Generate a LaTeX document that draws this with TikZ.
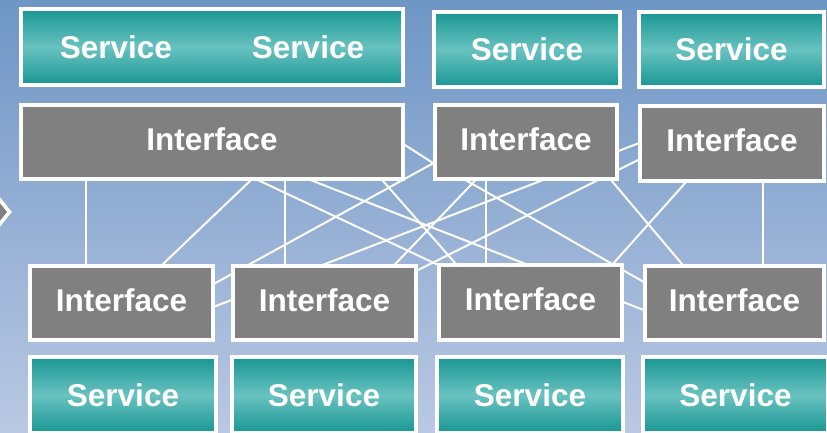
\documentclass[tikz,border=0pt]{standalone}
\usepackage{fontspec}
\setmainfont{Liberation Sans}
\pgfdeclarelayer{bg}
\pgfdeclarelayer{wires}
\pgfsetlayers{bg,wires,main}
\definecolor{skytop}{RGB}{110,150,197}
\definecolor{skybot}{RGB}{186,200,227}
\definecolor{tealdark}{RGB}{24,150,146}
\definecolor{teallight}{RGB}{104,194,192}
\definecolor{ifcgray}{RGB}{128,128,128}
\tikzset{
    box/.style={draw=white, line width=3.6pt, text=white, inner sep=0pt,
        font=\bfseries\fontsize{31.5}{36}\selectfont},
    svc/.style={box, top color=tealdark, bottom color=tealdark, middle color=teallight},
    ifc/.style={box, fill=ifcgray, text depth=6pt},
    wire/.style={white, line width=2pt},
}
\newcommand\Wire[4]{%
    \draw[wire] ([shift={#2}]#1.center) -- ([shift={#4}]#3.center);
}

\begin{document}
\begin{tikzpicture}[x=1pt,y=-1pt]
    \useasboundingbox (0,0) rectangle (827,432);
    \clip (0,0) rectangle (827,432);
    \begin{pgfonlayer}{bg}
        \shade[top color=skytop, bottom color=skybot] (0,0) rectangle (827,432);
    \end{pgfonlayer}
    % top row
    \node[svc, minimum width=382.4pt, minimum height=76.4pt] (S1) at (212,47) {Service\hspace{80pt}Service};
    \node[svc, minimum width=186.4pt, minimum height=75.4pt] (S2) at (527,49.5) {Service};
    \node[svc, minimum width=185.4pt, minimum height=75.4pt] (S3) at (731.5,49.5) {Service};
    \node[ifc, minimum width=382.4pt, minimum height=74.4pt] (I1) at (212,142) {Interface};
    \node[ifc, minimum width=182.4pt, minimum height=74.4pt] (I2) at (526,142) {Interface};
    \node[ifc, minimum width=184.4pt, minimum height=75.4pt] (I3) at (732,143.5) {Interface};
    % bottom row
    \node[ifc, minimum width=183.4pt, minimum height=74.4pt] (B1) at (121.5,303) {Interface};
    \node[ifc, minimum width=183.4pt, minimum height=74.4pt] (B2) at (324.5,303) {Interface};
    \node[ifc, minimum width=183.4pt, minimum height=75.4pt] (B3) at (530.5,302.5) {Interface};
    \node[ifc, minimum width=179.4pt, minimum height=74.4pt] (B4) at (734.5,303) {Interface};
    \node[svc, minimum width=186.4pt, minimum height=76.4pt] (V1) at (123,395) {Service};
    \node[svc, minimum width=184.4pt, minimum height=76.4pt] (V2) at (324,395) {Service};
    \node[svc, minimum width=186.4pt, minimum height=76.4pt] (V3) at (530,395) {Service};
    \node[svc, minimum width=185.4pt, minimum height=76.4pt] (V4) at (735.5,395) {Service};
    % arrow tip on the left edge
    \draw[white, fill=ifcgray, line width=3.6pt] (-40,175) -- (-20,175) -- (9.5,212) -- (-20,249) -- (-40,249) -- cycle;
    \begin{pgfonlayer}{wires}
        \Wire{I1}{(-126,18)}{B1}{(-35.5,-13)}
        \Wire{I1}{(60,18)}{B1}{(19.5,-18)}
        \Wire{I1}{(73,18)}{B2}{(-39.5,-13)}
        \Wire{I1}{(14,23)}{B3}{(-60.5,-22.5)}
        \Wire{I1}{(60,23)}{B4}{(-34.5,29)}
        \Wire{I1}{(157,23)}{B3}{(-60.5,-22.5)}
        \Wire{I1}{(168,-13)}{I2}{(-81,28.7)}
        \Wire{I2}{(-56,1)}{B1}{(68.5,-6)}
        \Wire{I2}{(-36,23)}{B2}{(55.5,-23)}
        \Wire{I2}{(-40,18)}{B3}{(-44.5,-13)}
        \Wire{I2}{(-78,28)}{B4}{(-64.5,-6)}
        \Wire{I2}{(74,25)}{B4}{(-39,-23)}
        \Wire{I3}{(-72,-8.5)}{B1}{(68.5,13)}
        \Wire{I3}{(-72,5.5)}{B2}{(80.5,-26.5)}
        \Wire{I3}{(-32.5,23.5)}{B3}{(68,-22.5)}
        \Wire{I3}{(31,20)}{B4}{(28.5,-13)}
    \end{pgfonlayer}
\end{tikzpicture}
\end{document}
